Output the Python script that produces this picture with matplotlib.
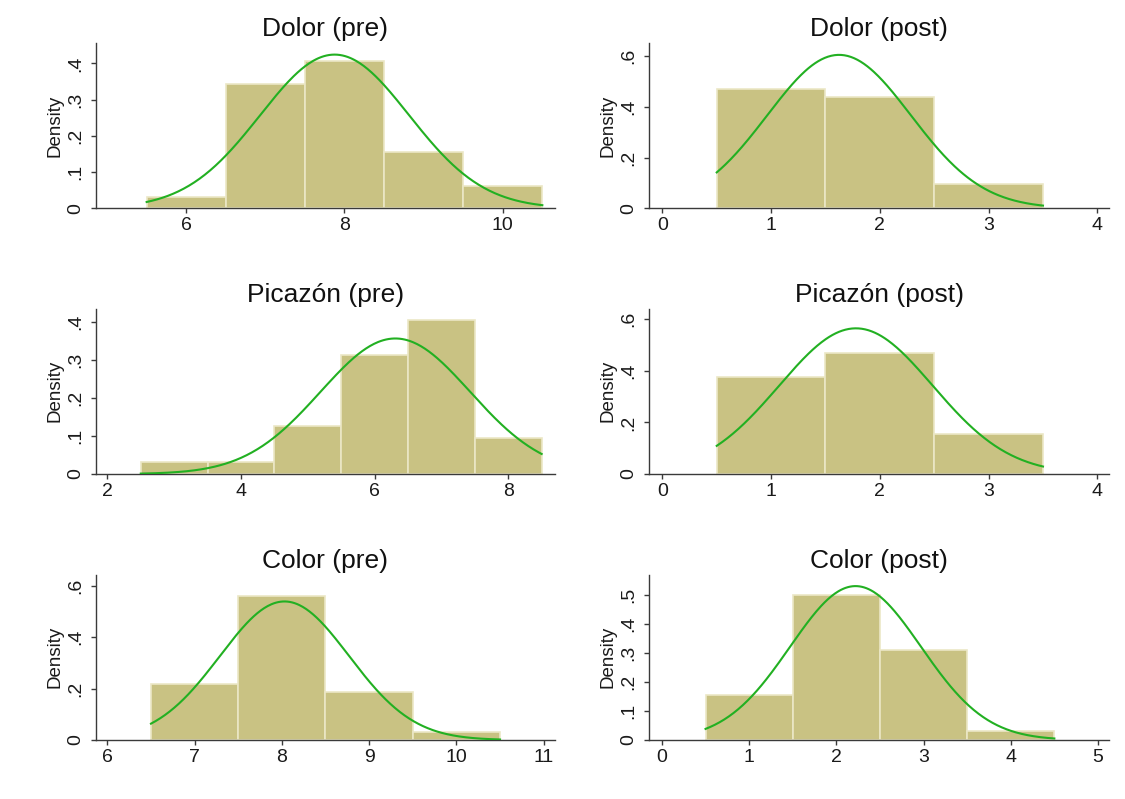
import numpy as np
import matplotlib
matplotlib.use("Agg")
import matplotlib.pyplot as plt
from matplotlib.ticker import FuncFormatter

plt.rcParams['font.family'] = ['Liberation Sans', 'DejaVu Sans']

titles = ["Dolor (pre)", "Dolor (post)", "Picazón (pre)",
          "Picazón (post)", "Color (pre)", "Color (post)"]

# left bin edges (bins are 1 unit wide) and densities
bin_start = [5.5, 0.5, 2.5, 0.5, 6.5, 0.5]
dens_dolor_pre = [0.031, 0.344, 0.406, 0.156, 0.062]
dens_dolor_post = [0.469, 0.437, 0.094]
dens_pic_pre = [0.031, 0.031, 0.125, 0.312, 0.406, 0.094]
dens_pic_post = [0.375, 0.469, 0.156]
dens_color_pre = [0.219, 0.562, 0.187, 0.031]
dens_color_post = [0.156, 0.500, 0.312, 0.031]
densities = [dens_dolor_pre, dens_dolor_post, dens_pic_pre,
             dens_pic_post, dens_color_pre, dens_color_post]

# normal overlay: mean and sd
norm_mean = [7.875, 1.625, 6.31, 1.78, 8.03, 2.22]
norm_sd = [0.94, 0.66, 1.12, 0.706, 0.74, 0.75]

xticks = [[6, 8, 10], [0, 1, 2, 3, 4], [2, 4, 6, 8],
          [0, 1, 2, 3, 4], [6, 7, 8, 9, 10, 11], [0, 1, 2, 3, 4, 5]]
yticks = [[0, .1, .2, .3, .4], [0, .2, .4, .6], [0, .1, .2, .3, .4],
          [0, .2, .4, .6], [0, .2, .4, .6], [0, .1, .2, .3, .4, .5]]
xlims = [(4.86, 10.66), (-0.12, 4.11), (1.83, 8.70),
         (-0.12, 4.11), (5.87, 11.13), (-0.145, 5.13)]
ylims = [0.457, 0.652, 0.435, 0.642, 0.644, 0.572]

bar_color = '#c9c283'
edge_color = '#ebe7c6'
line_color = '#22b022'
axis_color = '#3a3a3a'

fig = plt.figure(figsize=(11.25, 7.99), dpi=100)

col_x = [96 / 1125, 649.3 / 1125]
col_w = [459 / 1125, 460 / 1125]
row_y = [1 - 208.3 / 799, 1 - 474 / 799, 1 - 740 / 799]
row_h = 165.5 / 799


def fmt(v, pos):
    if abs(v) < 1e-9:
        return "0"
    return ("%g" % v).lstrip("0")


for i in range(6):
    r, c = divmod(i, 2)
    ax = fig.add_axes([col_x[c], row_y[r], col_w[c], row_h])
    d = densities[i]
    lefts = bin_start[i] + np.arange(len(d))
    ax.bar(lefts, d, width=1.0, align='edge', color=bar_color,
           edgecolor=edge_color, linewidth=1.2, zorder=2)

    lo, hi = bin_start[i], bin_start[i] + len(d)
    xs = np.linspace(lo, hi, 300)
    m, s = norm_mean[i], norm_sd[i]
    ys = np.exp(-0.5 * ((xs - m) / s) ** 2) / (s * np.sqrt(2 * np.pi))
    ax.plot(xs, ys, color=line_color, linewidth=1.5, zorder=3)

    ax.set_xlim(*xlims[i])
    ax.set_ylim(0, ylims[i])
    ax.set_xticks(xticks[i])
    ax.set_yticks(yticks[i])
    ax.yaxis.set_major_formatter(FuncFormatter(fmt))

    for side in ['top', 'right']:
        ax.spines[side].set_visible(False)
    for side in ['left', 'bottom']:
        ax.spines[side].set_color(axis_color)
        ax.spines[side].set_linewidth(1.0)

    ax.tick_params(axis='both', length=3.5, width=1.0, color=axis_color,
                   labelsize=14, labelcolor='#1a1a1a', pad=3)
    ax.tick_params(axis='y', labelrotation=90, pad=5)
    for lab in ax.get_yticklabels():
        lab.set_va('center')

    ax.set_ylabel("Density", fontsize=13.5, color='#1a1a1a', labelpad=3)
    ax.set_title(titles[i], fontsize=19, color='#111111', pad=5)

fig.savefig("out.png", dpi=100)
